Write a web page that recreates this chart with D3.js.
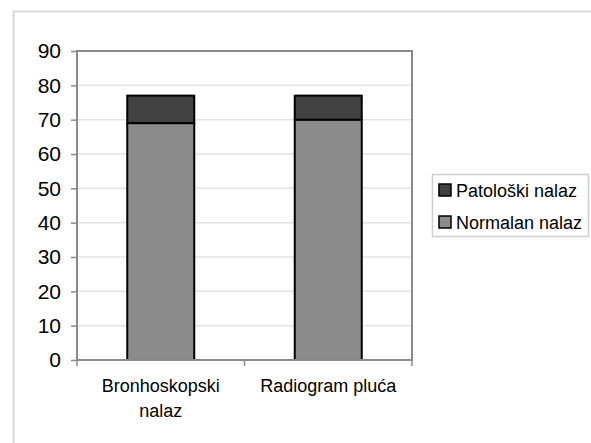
<!DOCTYPE html>
<html>
<head>
<meta charset="utf-8">
<script src="https://cdn.jsdelivr.net/npm/d3@7"></script>
<style>
  body { margin: 0; background: #fff; }
  svg { font-family: "Liberation Sans", Arial, sans-serif; }
</style>
</head>
<body>
<div id="chart"></div>
<script>
// chart data
const categories = [["Bronhoskopski", "nalaz"], ["Radiogram pluća"]];
const seriesNames = ["Normalan nalaz", "Patološki nalaz"];
const normalValues = [69, 70];
const patoloskiValues = [8, 7];
const yTicks = [0, 10, 20, 30, 40, 50, 60, 70, 80, 90];
const seriesColors = ["#8c8c8c", "#424242"];

const W = 591, H = 443;
const margin = { top: 51, right: 179, bottom: 83, left: 77 };
const width = W - margin.left - margin.right;
const height = H - margin.top - margin.bottom;
const fontSize = 18;

const svg = d3.select("#chart")
  .append("svg")
  .attr("width", W)
  .attr("height", H);

// outer frame
svg.append("rect")
  .attr("x", 13.5)
  .attr("y", 11.5)
  .attr("width", W + 10)
  .attr("height", H + 10)
  .attr("fill", "none")
  .attr("stroke", "#d9d9d9")
  .attr("stroke-width", 2);

const g = svg.append("g")
  .attr("transform", "translate(" + margin.left + "," + margin.top + ")");

const rows = categories.map((c, i) => ({
  key: i,
  "Normalan nalaz": normalValues[i],
  "Patološki nalaz": patoloskiValues[i]
}));

const x = d3.scaleBand().domain(d3.range(categories.length)).range([0, width]).paddingInner(0.6).paddingOuter(0.3);
const x0 = d3.scaleBand().domain(d3.range(categories.length)).range([0, width]);
const y = d3.scaleLinear().domain([0, 90]).range([height, 0]);

// gridlines
g.selectAll(".grid")
  .data(yTicks.slice(1, -1))
  .enter().append("line")
  .attr("x1", 0)
  .attr("x2", width)
  .attr("y1", d => y(d))
  .attr("y2", d => y(d))
  .attr("stroke", "#e3e3e3")
  .attr("stroke-width", 1.5);

const stack = d3.stack().keys(seriesNames);
const layers = stack(rows);

g.selectAll(".layer")
  .data(layers)
  .enter().append("g")
  .attr("fill", (d, i) => seriesColors[i])
  .selectAll("rect")
  .data(d => d)
  .enter().append("rect")
  .attr("x", d => x(d.data.key))
  .attr("y", d => y(d[1]))
  .attr("width", x.bandwidth())
  .attr("height", d => y(d[0]) - y(d[1]))
  .attr("stroke", "#000")
  .attr("stroke-width", 2);

// plot frame
g.append("rect")
  .attr("width", width)
  .attr("height", height)
  .attr("fill", "none")
  .attr("stroke", "#8a8a8a")
  .attr("stroke-width", 2);

// y axis
const yAxis = g.append("g")
  .call(d3.axisLeft(y).tickValues(yTicks).tickSize(6).tickPadding(10));
yAxis.select(".domain").remove();
yAxis.selectAll("line").attr("stroke", "#8a8a8a").attr("stroke-width", 1.5);
yAxis.selectAll("text").attr("font-size", 21).attr("fill", "#000");

// x ticks between categories
g.selectAll(".xtick")
  .data(d3.range(categories.length + 1))
  .enter().append("line")
  .attr("x1", d => d * x0.step())
  .attr("x2", d => d * x0.step())
  .attr("y1", height)
  .attr("y2", height + 6)
  .attr("stroke", "#8a8a8a")
  .attr("stroke-width", 1.5);

// category labels
const labels = g.selectAll(".xlabel")
  .data(categories)
  .enter().append("text")
  .attr("text-anchor", "middle")
  .attr("font-size", fontSize)
  .attr("fill", "#000")
  .attr("transform", (d, i) => "translate(" + (x0(i) + x0.bandwidth() / 2) + "," + (height + 32) + ")");

labels.selectAll("tspan")
  .data(d => d)
  .enter().append("tspan")
  .attr("x", 0)
  .attr("dy", (d, i) => i === 0 ? 0 : 25)
  .text(d => d);

// legend
const legend = svg.append("g").attr("transform", "translate(432,174)");
legend.append("rect")
  .attr("x", 0.5)
  .attr("y", 0.5)
  .attr("width", 156)
  .attr("height", 62)
  .attr("fill", "#fff")
  .attr("stroke", "#cfcfcf")
  .attr("stroke-width", 1.5);

const legendItems = legend.selectAll(".item")
  .data(seriesNames.slice().reverse())
  .enter().append("g")
  .attr("transform", (d, i) => "translate(7," + (10 + i * 32) + ")");

legendItems.append("rect")
  .attr("width", 12)
  .attr("height", 12)
  .attr("fill", d => seriesColors[seriesNames.indexOf(d)])
  .attr("stroke", "#000")
  .attr("stroke-width", 1.5);

legendItems.append("text")
  .attr("x", 17)
  .attr("y", 12.5)
  .attr("font-size", fontSize)
  .attr("fill", "#000")
  .text(d => d);
</script>
</body>
</html>
